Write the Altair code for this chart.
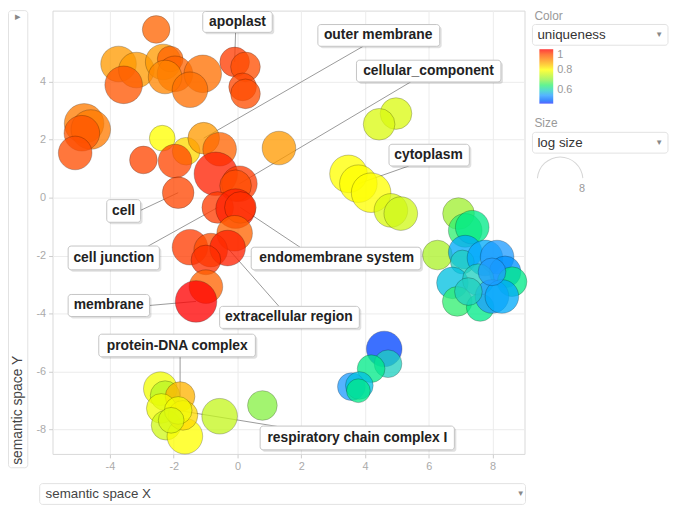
import altair as alt
import pandas as pd

# ---------------- data ----------------
bubble_x = [-2.55, -3.73, -3.17, -3.57, -2.33, -2.11, -1.96, -2.27, -1.09, -1.49,
            -0.09, 0.25, 0.16, 0.25, -4.81, -4.60, -4.88, -5.09, -2.36, -1.61,
            -1.06, -0.56, -2.95, -1.96, -0.68, 0.06, -0.06, -1.86, -0.62, -0.06,
            0.09, -0.09, -1.49, -0.84, -0.31, -0.99, -0.99, -1.30, 1.30, 4.97,
            4.44, 3.48, 3.79, 4.19, 4.81, 5.12, 6.93, 7.14, 7.36, 6.27,
            7.14, 7.05, 7.76, 8.14, 8.39, 8.61, 6.74, 7.55, 6.89, 7.61,
            7.98, 8.29, 7.98, 7.24, 4.60, 4.72, 4.19, 3.57, 3.82, 3.79,
            -2.42, -2.27, -1.80, -2.39, -2.24, -1.65, -1.71, -1.86, -0.56, 0.78,
            -2.08]
bubble_y = [5.80, 4.61, 4.40, 3.89, 4.68, 4.78, 4.27, 4.16, 4.27, 3.72,
            4.68, 4.51, 3.82, 3.58, 2.56, 2.35, 2.22, 1.54, 2.05, 1.60,
            2.05, 1.67, 1.30, 1.26, 0.82, 0.48, 0.41, 0.17, -0.34, -0.38,
            -0.34, -1.23, -1.71, -1.81, -1.74, -2.15, -3.07, -3.58, 1.71, 2.90,
            2.53, 0.82, 0.48, 0.17, -0.44, -0.55, -0.55, -1.13, -1.02, -1.98,
            -1.88, -2.22, -2.08, -2.05, -2.56, -2.90, -2.94, -2.83, -3.58, -3.79,
            -3.41, -3.41, -2.56, -3.24, -5.22, -5.73, -5.90, -6.52, -6.48, -6.66,
            -6.59, -6.83, -6.86, -7.27, -7.85, -8.23, -7.51, -7.34, -7.54, -7.17,
            -7.68]
uniqueness = [0.93, 0.88, 0.88, 0.94, 0.88, 0.93, 0.93, 0.90, 0.92, 0.92,
              0.97, 0.95, 0.96, 0.95, 0.91, 0.91, 0.94, 0.95, 0.80, 0.83,
              0.88, 0.93, 0.96, 0.96, 0.99, 0.97, 0.95, 0.96, 0.97, 0.99,
              0.98, 0.93, 0.97, 0.95, 0.99, 0.98, 0.93, 1.00, 0.88, 0.77,
              0.77, 0.80, 0.80, 0.80, 0.77, 0.76, 0.72, 0.65, 0.64, 0.73,
              0.56, 0.60, 0.56, 0.55, 0.54, 0.64, 0.58, 0.60, 0.65, 0.64,
              0.55, 0.56, 0.55, 0.60, 0.48, 0.60, 0.64, 0.55, 0.58, 0.64,
              0.79, 0.74, 0.86, 0.79, 0.76, 0.80, 0.83, 0.79, 0.75, 0.70,
              0.77]
log_size = [2.96, 4.9, 4.9, 5.46, 4.9, 2.56, 4.9, 4.37, 5.46, 4.9,
            3.4, 3.4, 2.96, 3.4, 6.05, 6.05, 4.9, 4.37, 2.56, 2.96,
            3.87, 4.37, 2.96, 4.37, 7.3, 4.9, 3.87, 3.87, 3.87, 6.05,
            3.87, 4.9, 4.9, 4.37, 4.9, 3.4, 4.37, 6.67, 4.37, 3.87,
            3.87, 5.46, 5.46, 6.05, 4.37, 4.37, 3.87, 4.37, 4.37, 3.4,
            4.37, 2.18, 4.9, 4.37, 3.87, 3.4, 3.87, 3.87, 3.4, 2.96,
            4.37, 4.37, 2.96, 2.96, 4.9, 2.96, 2.96, 2.96, 2.96, 2.18,
            4.37, 3.4, 3.4, 3.4, 3.4, 4.9, 3.4, 2.96, 4.9, 3.4,
            2.56]

label_text = ["apoplast", "outer membrane", "cellular_component", "cytoplasm", "cell",
              "cell junction", "endomembrane system", "membrane", "extracellular region",
              "protein-DNA complex", "respiratory chain complex I"]
label_target = [10, 20, 25, 42, 27, 28, 30, 37, 34, 72, 77]

# annotation geometry (data units)
label_x = [0.00, 4.41, 5.99, 5.99, -3.57, -3.88, 3.11, -4.04, 1.61, -1.89, 3.76]
label_y = [6.06, 5.60, 4.37, 1.47, -0.46, -2.08, -2.10, -3.72, -4.13, -5.12, -8.29]
box_x1 = [-1.09, 2.52, 3.73, 4.75, -4.10, -5.31, 0.43, -5.31, -0.56, -4.35, 0.71]
box_x2 = [1.09, 6.34, 8.26, 7.27, -3.04, -2.45, 5.75, -2.76, 3.82, 0.56, 6.80]
box_y1 = [6.42, 5.97, 4.74, 1.84, -0.07, -1.67, -1.71, -3.34, -3.75, -4.71, -7.88]
box_y2 = [5.70, 5.22, 3.99, 1.09, -0.85, -2.49, -2.49, -4.10, -4.51, -5.49, -8.70]
line_x = [-0.06, 3.94, 5.43, 5.37, -3.04, -2.80, 1.96, -2.76, 1.30, -1.80, 1.40]
line_y = [5.70, 5.22, 3.99, 1.09, -0.44, -1.67, -1.71, -3.72, -3.75, -5.49, -7.92]

x_ticks = [-4, -2, 0, 2, 4, 6, 8]
y_ticks = [-8, -6, -4, -2, 0, 2, 4]
legend_values = [0.6, 0.8, 1]
u_stops = [0.47, 0.55, 0.60, 0.65, 0.72, 0.80, 0.88, 0.94, 1.00]
u_colors = ["#2030ff", "#1f9cff", "#1fd0c0", "#30f070", "#a0f030", "#ffff00",
            "#ff9a00", "#ff5500", "#ff0000"]

# ---------------- tables ----------------
df = pd.DataFrame({"x": bubble_x, "y": bubble_y, "uniqueness": uniqueness, "log_size": log_size})
lab = pd.DataFrame({
    "text": label_text, "tx": label_x, "ty": label_y,
    "bx1": box_x1, "bx2": box_x2, "by1": box_y1, "by2": box_y2,
    "lx": line_x, "ly": line_y,
    "px": [bubble_x[i] for i in label_target],
    "py": [bubble_y[i] for i in label_target],
})
one = pd.DataFrame({"k": [0]})

FONT = "Liberation Sans"
xscale = alt.Scale(domain=[-5.8, 9.0], nice=False, zero=False)
yscale = alt.Scale(domain=[-8.84, 6.45], nice=False, zero=False)
xaxis = alt.Axis(values=x_ticks, labelExpr="datum.value + ''")
yaxis = alt.Axis(values=y_ticks, labelExpr="datum.value + ''")


def X(f):
    return alt.X(f, scale=xscale, title=None, axis=xaxis)


def Y(f):
    return alt.Y(f, scale=yscale, title=None, axis=yaxis)


bubbles = alt.Chart(df).mark_circle(
    opacity=0.76, stroke="black", strokeOpacity=0.3, strokeWidth=1
).encode(
    x=X("x:Q"),
    y=Y("y:Q"),
    color=alt.Color("uniqueness:Q",
                    scale=alt.Scale(domain=u_stops, range=u_colors),
                    legend=alt.Legend(orient="none", legendX=492, legendY=39, title=None,
                                      direction="vertical", gradientLength=55,
                                      gradientThickness=14, values=legend_values,
                                      labelExpr="datum.value + ''", labelColor="#999",
                                      labelFontSize=11, labelFont=FONT, padding=0,
                                      gradientStrokeWidth=0, labelOffset=4)),
    size=alt.Size("log_size:Q", scale=alt.Scale(domain=[0, 8], range=[0, 2116]), legend=None),
)

lines = alt.Chart(lab).mark_rule(color="#9a9a9a", strokeWidth=1).encode(
    x=X("lx:Q"), y=Y("ly:Q"), x2="px:Q", y2="py:Q")

shadows = alt.Chart(lab).mark_rect(
    fill="black", opacity=0.12, cornerRadius=3, xOffset=2, x2Offset=2, yOffset=2, y2Offset=2
).encode(x=X("bx1:Q"), x2="bx2:Q", y=Y("by1:Q"), y2="by2:Q")

boxes = alt.Chart(lab).mark_rect(
    fill="white", stroke="#c4c4c4", strokeWidth=1, cornerRadius=3
).encode(x=X("bx1:Q"), x2="bx2:Q", y=Y("by1:Q"), y2="by2:Q")

texts = alt.Chart(lab).mark_text(
    font=FONT, fontWeight="bold", fontSize=14, color="#222", baseline="middle", align="center"
).encode(x=X("tx:Q"), y=Y("ty:Q"), text="text:N")


def rect(x1, x2, y1, y2, **kw):
    return alt.Chart(one).mark_rect(**kw).encode(
        x=alt.value(x1), x2=alt.value(x2), y=alt.value(y1), y2=alt.value(y2))


def txt(s, x, y, **kw):
    return alt.Chart(one).mark_text(text=s, font=FONT, baseline="middle", **kw).encode(
        x=alt.value(x), y=alt.value(y))


box_style = dict(fill="white", stroke="#e2e2e2", strokeWidth=1, cornerRadius=3)
decos = [
    # y selector
    rect(-44.5, -25, 0, 462, **box_style),
    txt("▸", -35, 6, fontSize=11, color="#888", align="center"),
    txt("semantic space Y", -35, 459, fontSize=14, color="#444", angle=270, align="left"),
    # x selector
    rect(-13, 478, 478, 499, **box_style),
    txt("semantic space X", -7, 489, fontSize=13.5, color="#444", align="left"),
    txt("▼", 473, 489, fontSize=8, color="#888", align="center"),
    # color selector
    txt("Color", 487, 5, fontSize=12, color="#999", align="left"),
    rect(485, 622, 14, 35, **box_style),
    txt("uniqueness", 490, 25, fontSize=13.5, color="#333", align="left"),
    txt("▼", 613, 25, fontSize=8, color="#888", align="center"),
    # size selector
    txt("Size", 487, 114, fontSize=12, color="#999", align="left"),
    rect(485, 622, 123, 144, **box_style),
    txt("log size", 490, 134, fontSize=13.5, color="#333", align="left"),
    txt("▼", 613, 134, fontSize=8, color="#888", align="center"),
    alt.Chart(one).mark_arc(theta=4.78, theta2=7.78, radius=23.5, radius2=22.5, color="#d6d6d6")
       .encode(x=alt.value(513), y=alt.value(171)),
    txt("8", 535, 180, fontSize=11, color="#999", align="center"),
]

chart = alt.layer(lines, bubbles, shadows, boxes, texts, *decos).properties(
    width=477, height=448,
    padding={"left": 45, "top": 0, "right": 146, "bottom": 52},
    autosize=alt.AutoSizeParams(type="none"),
).configure_view(stroke="#d9d9d9").configure_axis(
    grid=True, gridColor="#ececec", domain=False, tickColor="#cccccc", tickSize=4,
    labelColor="#aaaaaa", labelFont=FONT, labelFontSize=11, labelPadding=3,
)

chart.save("out.html", embed_options={"renderer": "svg", "actions": False})
